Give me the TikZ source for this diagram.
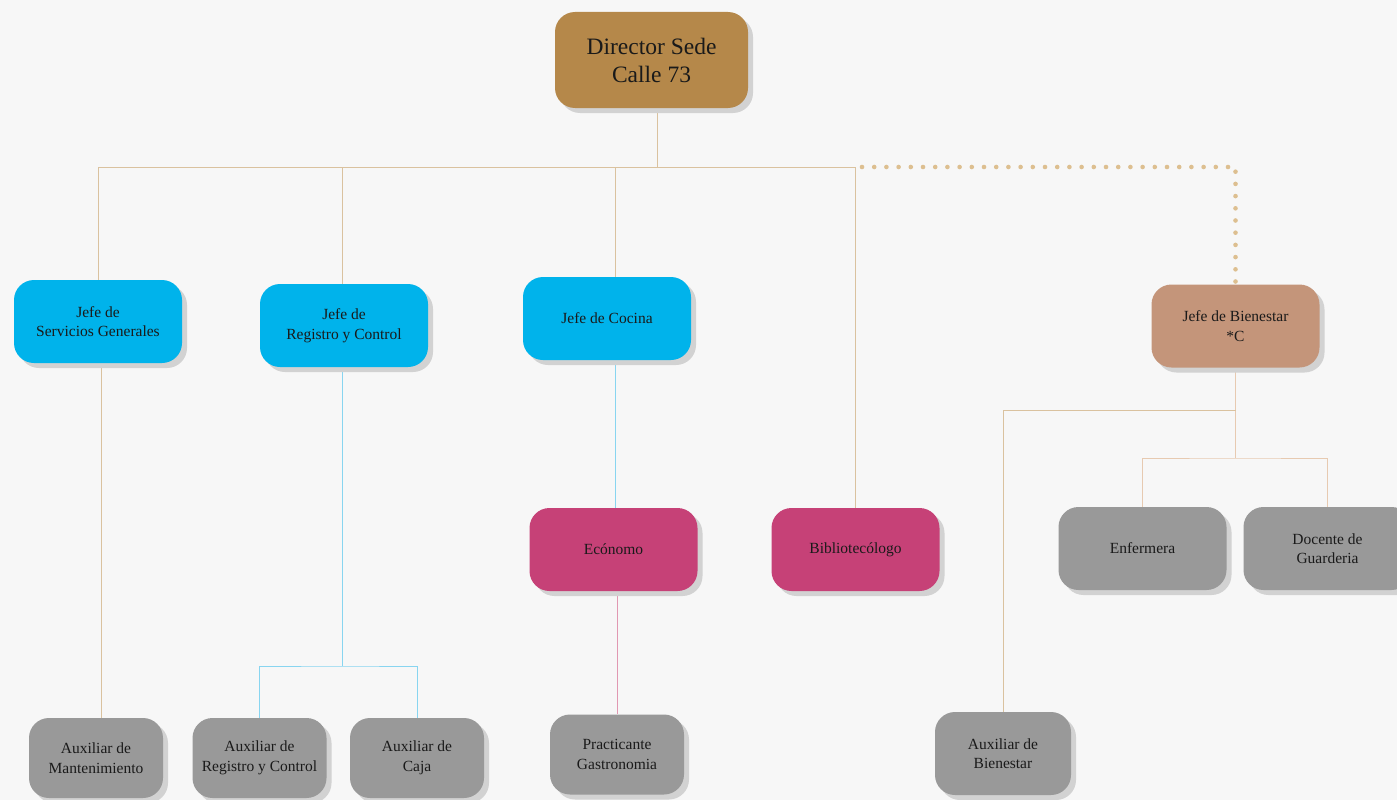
\documentclass[tikz,border=0pt]{standalone}
\usepackage{fontspec}
\setmainfont{Liberation Serif}
\usetikzlibrary{shadows}
\pgfdeclarelayer{bg}
\pgfdeclarelayer{background}
\pgfsetlayers{bg,background,main}
\definecolor{pagebg}{HTML}{F7F7F7}
\definecolor{shadowc}{HTML}{D2D2D2}
\definecolor{dirc}{HTML}{B5884A}
\definecolor{cyanc}{HTML}{00B3EB}
\definecolor{pinkc}{HTML}{C64177}
\definecolor{grayc}{HTML}{999999}
\definecolor{bienc}{HTML}{C4957A}
\definecolor{tanl}{HTML}{DAC29F}
\definecolor{bluel}{HTML}{88D5F0}
\definecolor{pinkl}{HTML}{E198B2}
\definecolor{peachl}{HTML}{E7CAB1}
\definecolor{dotc}{HTML}{DDBF90}
\definecolor{txt}{HTML}{1A1A1A}
\tikzset{
  box/.style={rounded corners=20pt, align=center, text=txt, inner sep=0pt,
    minimum width=168pt, minimum height=83pt,
    font=\fontsize{15.5}{19.5}\selectfont,
    drop shadow={shadow xshift=5pt, shadow yshift=-5pt, fill=shadowc, opacity=1}},
  dirbox/.style={box, fill=dirc, minimum width=193pt, minimum height=96pt,
    font=\fontsize{23.5}{28}\selectfont},
  jefe/.style={box, fill=cyanc},
  mid/.style={box, fill=pinkc},
  bien/.style={box, fill=bienc},
  aux/.style={box, fill=grayc, minimum width=134pt, minimum height=80pt},
  auxw/.style={box, fill=grayc},
  con/.style={line width=1pt},
  dotline/.style={dotc, line width=4.6pt, line cap=round, dash pattern=on 0pt off 12.2pt}
}
\begin{document}
\begin{tikzpicture}[x=1pt,y=-1pt]
\begin{pgfonlayer}{bg}
\fill[pagebg] (0,0) rectangle (1397,800);
\end{pgfonlayer}
\useasboundingbox (0,0) rectangle (1397,800);
\begin{scope}
\clip (0,0) rectangle (1397,800);
% nodes
\node[dirbox] (dir) at (651.5,60) {Director Sede\\Calle 73};
\node[jefe] (sg) at (98,321.5) {Jefe de\\Servicios Generales};
\node[jefe] (reg) at (344,325.5) {Jefe de\\Registro y Control};
\node[jefe] (coc) at (607,318.5) {Jefe de Cocina};
\node[bien] (bie) at (1235.5,326) {Jefe de Bienestar\\*C};
\node[mid] (eco) at (613.5,549.5) {Ecónomo};
\node[mid] (bib) at (855.5,549.5) {Bibliotecólogo};
\node[auxw] (enf) at (1142.5,548.5) {Enfermera};
\node[auxw] (doc) at (1327.5,548.5) {Docente de\\Guarderia};
\node[aux] (am) at (96,758) {Auxiliar de\\Mantenimiento};
\node[aux] (ar) at (259.5,758) {Auxiliar de\\Registro y Control};
\node[aux] (ac) at (417,758) {Auxiliar de\\Caja};
\node[aux] (pg) at (617,754.5) {Practicante\\Gastronomia};
\node[aux, minimum width=136pt, minimum height=83pt] (ab) at (1003,753.5) {Auxiliar de\\Bienestar};
% connectors
\begin{pgfonlayer}{background}
\coordinate (bus) at (657,167);
\coordinate (rx) at (342,167);
\coordinate (cx) at (615.5,167);
\coordinate (sx) at (101,400);
\coordinate (rb) at (342,666);
\coordinate (ds) at (862,167);
\coordinate (bb1) at (1235.5,410);
\coordinate (bb2) at (1235.5,458);
\draw[con, tanl] (dir.south -| bus) -- (bus);
\draw[con, tanl] (sg.north) |- (bus);
\draw[con, tanl] (bus) -| (bib.north);
\draw[con, tanl] (rx) -- (rx |- reg.north);
\draw[con, tanl] (cx) -- (cx |- coc.north);
\draw[dotline] (ds) -| (bie.north);
\draw[con, tanl] (sg.south -| sx) -- (am.north -| sx);
\draw[con, bluel] (reg.south -| rx) -- (rb);
\draw[con, bluel] (ar.north) |- (rb) -| (ac.north);
\draw[con, bluel] (coc.south -| cx) -- (eco.north -| cx);
\draw[con, pinkl] (eco.south -| pg.north) -- (pg.north);
\draw[con, peachl] (bie.south) -- (bb2);
\draw[con, tanl] (bb1) -| (ab.north);
\draw[con, peachl] (enf.north) |- (bb2) -| (doc.north);
\end{pgfonlayer}
\end{scope}
\end{tikzpicture}
\end{document}
